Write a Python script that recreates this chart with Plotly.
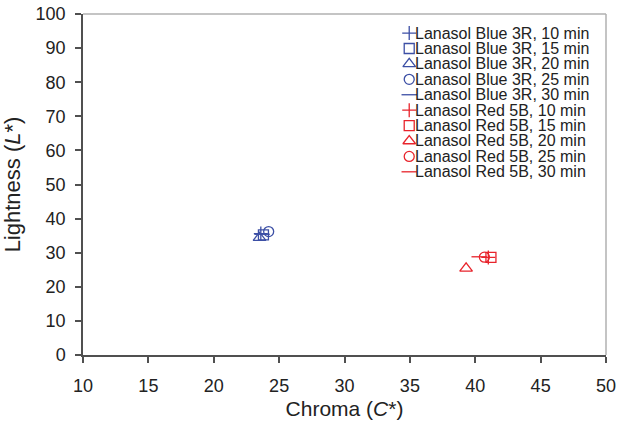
import plotly.graph_objects as go

# Data (Chroma C*, Lightness L*)
dyes = ["Lanasol Blue 3R", "Lanasol Red 5B"]
times = ["10 min", "15 min", "20 min", "25 min", "30 min"]
blue_chroma = [23.6, 23.8, 23.5, 24.2, 23.7]
blue_lightness = [35.6, 35.2, 34.4, 36.2, 35.4]
red_chroma = [41.0, 41.2, 39.3, 40.7, 40.3]
red_lightness = [28.6, 28.6, 25.4, 28.7, 28.8]

symbols = ["cross-thin-open", "square-open", "triangle-up-open", "circle-open", "line-ew-open"]
sizes = [10, 10, 11, 10, 11]
colors = {"Lanasol Blue 3R": "#3c4fa5", "Lanasol Red 5B": "#e8242c"}

x_ticks = [10, 15, 20, 25, 30, 35, 40, 45, 50]
y_ticks = [0, 10, 20, 30, 40, 50, 60, 70, 80, 90, 100]

# legend layout (in axis units)
LEG_KEY_X = 34.95
LEG_TEXT_X = 35.35
LEG_Y0 = 94.4
LEG_STEP = 4.52

fig = go.Figure()
series = [(dyes[0], blue_chroma, blue_lightness), (dyes[1], red_chroma, red_lightness)]
row = 0
annotations = []
for dye, xs, ys in series:
    for i, t in enumerate(times):
        marker = dict(symbol=symbols[i], size=sizes[i], color=colors[dye],
                      line=dict(color=colors[dye], width=1.3))
        fig.add_trace(go.Scatter(
            x=[xs[i]], y=[ys[i]], mode="markers",
            name=f"{dye}, {t}", marker=marker, showlegend=False,
        ))
        ly = LEG_Y0 - row * LEG_STEP
        # legend key
        fig.add_trace(go.Scatter(
            x=[LEG_KEY_X], y=[ly], mode="markers", marker=marker,
            showlegend=False, hoverinfo="skip",
        ))
        annotations.append(dict(
            x=LEG_TEXT_X, y=ly, xref="x", yref="y", text=f"{dye}, {t}",
            showarrow=False, xanchor="left", yanchor="middle",
            font=dict(size=16, color="#222222"), borderpad=0,
        ))
        row += 1

font_family = "Liberation Sans, Arial, sans-serif"
axis_col = "#505050"
fig.update_layout(
    width=617, height=428,
    margin=dict(l=83, r=11, t=14, b=73),
    paper_bgcolor="white", plot_bgcolor="white",
    font=dict(family=font_family, color="#222222", size=18),
    showlegend=False,
    annotations=annotations,
    xaxis=dict(
        range=[10, 50], tickvals=x_ticks, ticks="outside", ticklen=6,
        tickcolor=axis_col, tickwidth=1.5, automargin=False,
        showline=True, linecolor=axis_col, linewidth=1.5, mirror=False,
        showgrid=False, zeroline=False, ticklabelstandoff=8,
        ticklabeloverflow="allow",
        tickfont=dict(size=18),
        title=dict(text="Chroma (<i>C</i>*)", font=dict(size=21), standoff=6),
    ),
    yaxis=dict(
        range=[0, 100], tickvals=y_ticks, ticks="outside", ticklen=6,
        tickcolor=axis_col, tickwidth=1.5, automargin=False,
        showline=True, linecolor=axis_col, linewidth=1.5, mirror=False,
        showgrid=False, zeroline=False, ticklabelstandoff=6,
        ticklabeloverflow="allow",
        tickfont=dict(size=18),
        title=dict(text="Lightness (<i>L</i>*)", font=dict(size=22), standoff=10),
    ),
    shapes=[
        dict(type="line", xref="paper", yref="paper", x0=0, x1=1, y0=1, y1=1,
             line=dict(color="#b0b0b0", width=1.5)),
        dict(type="line", xref="paper", yref="paper", x0=1, x1=1, y0=0, y1=1,
             line=dict(color="#b0b0b0", width=1.5)),
    ],
)

# remove the browser's default 8px page margin so the figure fills the window
fig.write_html("out.html", config={"displayModeBar": False},
               post_script="document.body.style.margin='0';")
